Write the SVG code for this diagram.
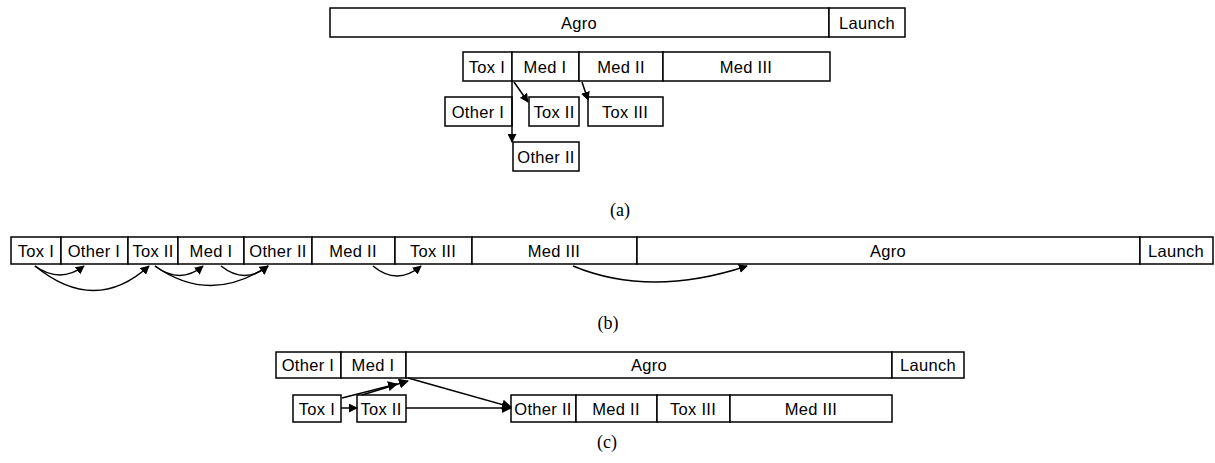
<svg xmlns="http://www.w3.org/2000/svg" width="1215" height="463" viewBox="0 0 1215 463">
<style>
rect{fill:#fff;stroke:#000;stroke-width:1.5}
text{font-family:"Liberation Sans",Arial,sans-serif;font-size:16.5px;letter-spacing:0.3px;text-anchor:middle;fill:#000}
text.cap{font-family:"Liberation Serif","Times New Roman",serif;font-size:18px;letter-spacing:0}
.c path,.c line{fill:none;stroke:#000;stroke-width:1.5}
</style>
<defs>
<marker id="ah" viewBox="0 0 10 10" refX="9" refY="5" markerWidth="9" markerHeight="9" orient="auto" markerUnits="userSpaceOnUse"><path d="M0,0L10,5L0,10z" fill="#000"/></marker>
<marker id="ahb" viewBox="0 0 10 10" refX="9" refY="5" markerWidth="10" markerHeight="10" orient="auto" markerUnits="userSpaceOnUse"><path d="M0,0L10,5L0,10z" fill="#000"/></marker>
</defs>
<rect x="0" y="0" width="1215" height="463" style="stroke:none"/>
<!-- (a) -->
<g id="a-agro"><rect x="330" y="8" width="499" height="29"/><text x="579" y="29">Agro</text></g>
<g id="a-launch"><rect x="829" y="8" width="76" height="29"/><text x="867" y="29">Launch</text></g>
<g id="a-toxI"><rect x="463" y="52" width="49" height="29"/><text x="487" y="73">Tox I</text></g>
<g id="a-medI"><rect x="512" y="52" width="67" height="29"/><text x="545" y="73">Med I</text></g>
<g id="a-medII"><rect x="579" y="52" width="84" height="29"/><text x="621" y="73">Med II</text></g>
<g id="a-medIII"><rect x="663" y="52" width="167" height="29"/><text x="746" y="73">Med III</text></g>
<g id="a-otherI"><rect x="445" y="97" width="67" height="29"/><text x="478" y="118">Other I</text></g>
<g id="a-toxII"><rect x="529" y="97" width="50" height="29"/><text x="554" y="118">Tox II</text></g>
<g id="a-toxIII"><rect x="588" y="97" width="75" height="29"/><text x="625" y="118">Tox III</text></g>
<g id="a-otherII"><rect x="513" y="142" width="66" height="29"/><text x="546" y="163">Other II</text></g>
<text class="cap" x="620" y="216">(a)</text>
<!-- (b) -->
<g id="b-toxI"><rect x="11" y="237" width="50" height="27"/><text x="36" y="257">Tox I</text></g>
<g id="b-otherI"><rect x="61" y="237" width="67" height="27"/><text x="94" y="257">Other I</text></g>
<g id="b-toxII"><rect x="128" y="237" width="50" height="27"/><text x="153" y="257">Tox II</text></g>
<g id="b-medI"><rect x="178" y="237" width="66" height="27"/><text x="211" y="257">Med I</text></g>
<g id="b-otherII"><rect x="244" y="237" width="68" height="27"/><text x="278" y="257">Other II</text></g>
<g id="b-medII"><rect x="312" y="237" width="83" height="27"/><text x="353" y="257">Med II</text></g>
<g id="b-toxIII"><rect x="395" y="237" width="77" height="27"/><text x="433" y="257">Tox III</text></g>
<g id="b-medIII"><rect x="472" y="237" width="165" height="27"/><text x="554" y="257">Med III</text></g>
<g id="b-agro"><rect x="637" y="237" width="503" height="27"/><text x="888" y="257">Agro</text></g>
<g id="b-launch"><rect x="1140" y="237" width="73" height="27"/><text x="1176" y="257">Launch</text></g>
<text class="cap" x="608" y="329">(b)</text>
<!-- (c) -->
<g id="c-otherI"><rect x="276" y="352" width="65" height="26"/><text x="308" y="371">Other I</text></g>
<g id="c-medI"><rect x="341" y="352" width="65" height="26"/><text x="373" y="371">Med I</text></g>
<g id="c-agro"><rect x="406" y="352" width="486" height="26"/><text x="649" y="371">Agro</text></g>
<g id="c-launch"><rect x="892" y="352" width="72" height="26"/><text x="928" y="371">Launch</text></g>
<g id="c-toxI"><rect x="293" y="395" width="48" height="27"/><text x="317" y="415">Tox I</text></g>
<g id="c-toxII"><rect x="357" y="395" width="49" height="27"/><text x="381" y="415">Tox II</text></g>
<g id="c-otherII"><rect x="511" y="395" width="65" height="27"/><text x="543" y="415">Other II</text></g>
<g id="c-medII"><rect x="576" y="395" width="81" height="27"/><text x="616" y="415">Med II</text></g>
<g id="c-toxIII"><rect x="657" y="395" width="73" height="27"/><text x="693" y="415">Tox III</text></g>
<g id="c-medIII"><rect x="730" y="395" width="162" height="27"/><text x="811" y="415">Med III</text></g>
<text class="cap" x="607" y="448">(c)</text>
<g id="connectors" class="c">
<!-- (a) -->
<line x1="514" y1="82" x2="528" y2="102" marker-end="url(#ah)"/>
<line x1="582" y1="82" x2="588" y2="100" marker-end="url(#ah)"/>
<line x1="512" y1="81" x2="512" y2="142" marker-end="url(#ah)"/>
<!-- (b) -->
<path d="M35,266 Q60,284 84,266" marker-end="url(#ah)"/>
<path d="M35,266 Q95,315 149,266" marker-end="url(#ah)"/>
<path d="M155,266 Q180,285 203,266" marker-end="url(#ah)"/>
<path d="M155,266 Q210,305 268,266" marker-end="url(#ah)"/>
<path d="M221,266 Q245,285 268,266" marker-end="url(#ah)"/>
<path d="M373,266 Q397,286 421,266" marker-end="url(#ah)"/>
<path d="M573,266 Q650,298 747,266" marker-end="url(#ah)"/>
<!-- (c) -->
<line x1="341" y1="408" x2="357" y2="408" marker-end="url(#ah)"/>
<line x1="342" y1="398" x2="397" y2="384" marker-end="url(#ahb)"/>
<line x1="362" y1="395" x2="408" y2="381" marker-end="url(#ahb)"/>
<line x1="408" y1="378" x2="511" y2="407" marker-end="url(#ahb)"/>
<line x1="406" y1="408" x2="511" y2="408" marker-end="url(#ahb)"/>
</g>
</svg>
